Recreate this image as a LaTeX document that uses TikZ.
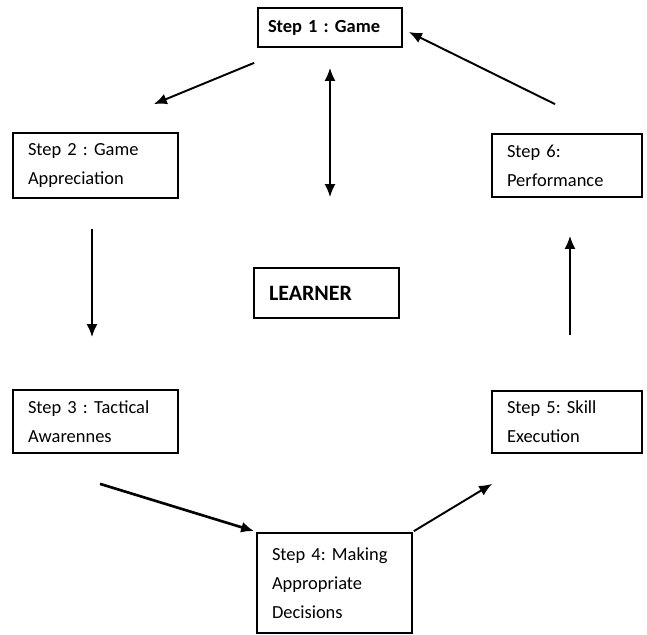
\documentclass[tikz,border=0pt]{standalone}
\usepackage{fontspec}
\setmainfont{Carlito}
\usetikzlibrary{arrows.meta, positioning, calc}
\tikzset{
  stepbox/.style={draw, line width=1pt, align=left, inner xsep=0.3cm, inner ysep=0pt, font=\fontsize{10.5}{16.5}\selectfont\frenchspacing},
  learnerbox/.style={stepbox, font=\fontsize{12.5}{15}\selectfont\bfseries},
  arrow/.style={-{Latex[length=2.6mm,width=2.2mm]}, line width=1.1pt},
  twoway/.style={{Latex[length=2.6mm,width=2.2mm]}-{Latex[length=2.6mm,width=2.2mm]}, line width=1.1pt}
}
\begin{document}
\begin{tikzpicture}[x=0.02cm, y=-0.02cm]
    \useasboundingbox (0,0) rectangle (647,635);
    % boxes of the cycle
    \node[stepbox, text width=2.48cm, minimum height=0.78cm, inner xsep=0.2cm, font=\fontsize{10.5}{16.5}\selectfont\frenchspacing\bfseries] (s1) at (330,27.5) {Step 1 : Game};
    \node[stepbox, text width=2.70cm, minimum height=1.30cm] (s2) at (95.5,165.5) {Step 2 : Game\\Appreciation};
    \node[stepbox, text width=2.70cm, minimum height=1.26cm] (s3) at (95.5,421.5) {Step 3 : Tactical\\Awarennes};
    \node[stepbox, text width=2.50cm, minimum height=2.00cm] (s4) at (334.5,583) {Step 4: Making\\Appropriate\\Decisions};
    \node[stepbox, text width=2.40cm, minimum height=1.24cm] (s5) at (567,422) {Step 5: Skill\\Execution};
    \node[stepbox, text width=2.40cm, minimum height=1.26cm] (s6) at (567,165.5) {Step 6:\\Performance};
    \node[learnerbox, text width=2.30cm, minimum height=1.00cm] (learner) at (326.5,293) {LEARNER};
    % connectors
    \draw[arrow] ([shift={(-3,15)}]s1.south west) -- ([shift={(-25,-28)}]s2.north east);
    \draw[twoway] ([shift={(0,20)}]s1.south) -- ([shift={(3.5,-70)}]learner.north);
    \draw[arrow] ([shift={(-3.5,30)}]s2.south) -- ([shift={(-3.5,-52)}]s3.north);
    \draw[arrow, line width=1.5pt] ([shift={(4.5,30)}]s3.south) -- ([shift={(-2,-1)}]s4.north west);
    \draw[arrow] ([shift={(1,-1)}]s4.north east) -- ([shift={(1,30)}]s5.south west);
    \draw[arrow] ([shift={(3,-55)}]s5.north) -- ([shift={(3,38)}]s6.south);
    \draw[arrow] ([shift={(-12,-29)}]s6.north) -- ([shift={(6,4.5)}]s1.east);
\end{tikzpicture}
\end{document}
